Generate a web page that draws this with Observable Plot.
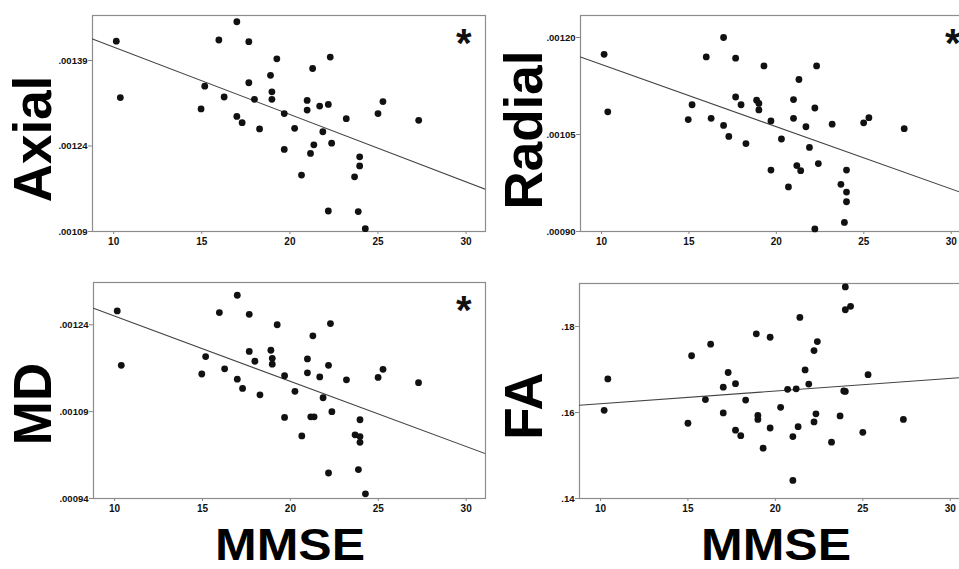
<!DOCTYPE html>
<html>
<head>
<meta charset="utf-8">
<script src="https://cdn.jsdelivr.net/npm/d3@7"></script>
<script src="https://cdn.jsdelivr.net/npm/@observablehq/plot@0.6"></script>
<style>
  html, body { margin: 0; padding: 0; background: #fff; overflow: hidden; }
  #wrap { position: relative; width: 959px; height: 569px; overflow: hidden; background: #fff; }
  .panel { position: absolute; width: 490px; }
  .panel svg { overflow: visible; max-width: none !important; }
  #labels { position: absolute; left: 0; top: 0; }
</style>
</head>
<body>
<div id="wrap">
  <div class="panel" id="p1" style="left:0px;top:0px"></div>
  <div class="panel" id="p2" style="left:490px;top:0px"></div>
  <div class="panel" id="p3" style="left:0px;top:260px"></div>
  <div class="panel" id="p4" style="left:490px;top:260px"></div>
  <svg id="labels" width="959" height="569"></svg>
</div>
<script>
// ---- data ----
const xTicks = [10, 15, 20, 25, 30];
const xDomain = [8.8, 31.1];
const xLabel = "MMSE";

const axialMmse = [10.15,10.38,16.99,15.97,17.67,19.26,22.29,21.29,18.9,17.67,15.17,16.27,18.98,18.98,17.99,14.96,16.99,17.29,18.28,19.68,20.27,20.98,20.98,21.69,22.18,25.28,25.0,23.2,27.31,21.87,22.37,21.36,21.17,19.68,23.96,23.96,20.66,23.67,22.18,23.88,24.28];
const axialValues = [0.001424,0.001325,0.001458,0.001426,0.001423,0.001393,0.001396,0.001376,0.001364,0.001351,0.001345,0.001326,0.001335,0.001322,0.001322,0.001305,0.001292,0.001281,0.00127,0.001297,0.001271,0.00132,0.001303,0.00131,0.001313,0.001318,0.001297,0.001288,0.001285,0.001265,0.001245,0.001242,0.001227,0.001234,0.001221,0.001205,0.001189,0.001186,0.001126,0.001125,0.001095];
const axialTicks = [0.00109, 0.00124, 0.00139];
const axialDomain = [0.00109, 0.001469];

const radialMmse = [10.15,10.36,16.98,15.99,17.67,19.29,22.30,21.29,17.67,15.18,17.98,18.87,19.00,19.00,20.98,22.20,14.96,16.27,16.98,19.69,20.98,21.69,23.19,24.99,25.29,27.31,17.28,18.26,20.29,21.89,22.40,21.17,21.39,19.69,24.01,20.69,23.69,24.01,24.01,23.89,22.20];
const radialValues = [0.001174,0.001085,0.0012,0.00117,0.001168,0.001156,0.001156,0.001135,0.001108,0.001096,0.001096,0.001103,0.001098,0.001088,0.001104,0.001091,0.001073,0.001075,0.001064,0.001071,0.001075,0.001062,0.001066,0.001068,0.001076,0.001059,0.001047,0.001036,0.001043,0.00103,0.001005,0.001002,0.000994,0.000995,0.000995,0.000969,0.000973,0.000961,0.000946,0.000914,0.000904];
const radialTicks = [0.00090, 0.00105, 0.00120];
const radialDomain = [0.00090, 0.001234];

const mdMmse = [10.15,10.38,16.98,15.96,17.66,19.25,22.28,21.28,17.66,18.89,15.18,17.98,18.97,18.97,20.97,22.17,16.26,14.96,20.97,19.67,21.67,23.19,24.99,25.27,27.29,16.98,17.28,18.27,20.26,21.86,22.36,19.67,21.16,21.35,23.96,23.68,23.96,23.96,20.65,22.17,23.87,24.27];
const mdValues = [0.001264,0.00117,0.001291,0.001261,0.001258,0.00124,0.001242,0.001221,0.001194,0.001196,0.001185,0.001177,0.001182,0.001172,0.001181,0.00117,0.001164,0.001155,0.001157,0.001152,0.00115,0.001145,0.001149,0.001163,0.00114,0.001146,0.00113,0.001119,0.001125,0.001114,0.00109,0.00108,0.001081,0.001081,0.001076,0.00105,0.001047,0.001037,0.001048,0.000984,0.00099,0.000948];
const mdTicks = [0.00094, 0.00109, 0.00124];
const mdDomain = [0.00094, 0.001313];

const faMmse = [10.42,10.21,15.21,15.0,16.3,16.0,17.3,17.02,17.72,17.02,18.3,17.72,18.02,18.91,19.7,19.0,19.0,19.3,19.7,20.3,20.7,21.19,21.4,21.7,21.91,22.21,22.4,22.32,22.21,21.3,21.0,21.0,23.21,23.7,24.0,24.0,24.3,23.91,24.0,25.3,25.0,27.32];
const faValues = [0.1678,0.1605,0.1732,0.1575,0.1759,0.163,0.1693,0.1659,0.1667,0.1599,0.1629,0.1559,0.1546,0.1783,0.1775,0.1593,0.1584,0.1517,0.1564,0.1612,0.1654,0.1655,0.1821,0.1699,0.1666,0.1744,0.1765,0.1597,0.1578,0.1567,0.1544,0.1442,0.1531,0.1592,0.1892,0.1839,0.1847,0.165,0.1649,0.1688,0.1554,0.1584];
const faTicks = [0.14, 0.16, 0.18];
const faDomain = [0.14, 0.19];

const panelNames = ["Axial", "Radial", "MD", "FA"];
const significant = [true, true, true, false];

// ---- helpers ----
function fit(xs, ys) {
  const mx = d3.mean(xs), my = d3.mean(ys);
  let sxy = 0, sxx = 0;
  for (let i = 0; i < xs.length; i++) { sxy += (xs[i]-mx)*(ys[i]-my); sxx += (xs[i]-mx)**2; }
  const b = sxy / sxx, a = my - b * mx;
  return xDomain.map(x => ({x, y: a + b * x}));
}
const fmt = digits => d => d.toFixed(digits).replace(/^0/, "");
const FONT = "Liberation Sans, Arial, sans-serif";

function panel(el, xs, ys, yDomain, yTicks, digits, star, m) {
  const rows = xs.map((x, i) => ({x, y: ys[i]}));
  const marks = [
    Plot.frame({stroke: "#8c8c8c", strokeWidth: 1.2}),
    Plot.axisX({ticks: xTicks, tickSize: 3, tickPadding: 3, fontSize: 10, fontWeight: "bold", stroke: "#888", fill: "#111", label: null, fontFamily: FONT}),
    Plot.axisY({ticks: yTicks, tickSize: 4, tickPadding: 1, fontSize: 9.5, fontWeight: "bold", stroke: "#888", fill: "#111", label: null, tickFormat: fmt(digits), fontFamily: FONT}),
    Plot.line(fit(xs, ys), {x: "x", y: "y", stroke: "#444", strokeWidth: 1.1, clip: true}),
    Plot.dot(rows, {x: "x", y: "y", r: 3.4, fill: "#111", stroke: "none"})
  ];
  if (star) marks.push(Plot.text(["*"], {frameAnchor: "top-right", dx: m.sdx, dy: 13, fontSize: 40, fontWeight: "bold", fill: "#111", lineAnchor: "top", textAnchor: "end", fontFamily: FONT}));
  const chart = Plot.plot({
    width: m.w, height: m.h,
    marginLeft: m.l, marginRight: m.r, marginTop: m.t, marginBottom: m.b,
    style: {background: "transparent", fontFamily: FONT, overflow: "visible", maxWidth: "none"},
    x: {domain: xDomain},
    y: {domain: yDomain},
    marks
  });
  document.getElementById(el).appendChild(chart);
}

panel("p1", axialMmse, axialValues, axialDomain, axialTicks, 5, significant[0], {w: 490, h: 250, l: 92, r: 5, t: 15, b: 19, sdx: -14});
panel("p2", radialMmse, radialValues, radialDomain, radialTicks, 5, significant[1], {w: 490, h: 250, l: 90, r: 10, t: 15, b: 19, sdx: -10});
panel("p3", mdMmse, mdValues, mdDomain, mdTicks, 5, significant[2], {w: 490, h: 260, l: 93, r: 5, t: 22, b: 22, sdx: -14});
panel("p4", faMmse, faValues, faDomain, faTicks, 2, significant[3], {w: 490, h: 260, l: 89, r: 11, t: 23, b: 22, sdx: -14});

// ---- big axis titles ----
const svg = d3.select("#labels");
const yLabelPos = [[51, 139], [542, 130], [51, 404], [542, 406]];
panelNames.forEach((name, i) => {
  svg.append("text")
    .attr("transform", `translate(${yLabelPos[i][0]},${yLabelPos[i][1]}) rotate(-90)`)
    .attr("text-anchor", "middle")
    .attr("font-family", FONT)
    .attr("font-weight", "bold")
    .attr("font-size", 53)
    .attr("fill", "#000")
    .text(name);
});
[290, 776].forEach(cx => {
  svg.append("text")
    .attr("x", cx).attr("y", 559.5)
    .attr("text-anchor", "middle")
    .attr("font-family", FONT)
    .attr("font-weight", "bold")
    .attr("font-size", 45)
    .attr("textLength", 150)
    .attr("lengthAdjust", "spacingAndGlyphs")
    .attr("fill", "#000")
    .text(xLabel);
});
</script>
</body>
</html>
